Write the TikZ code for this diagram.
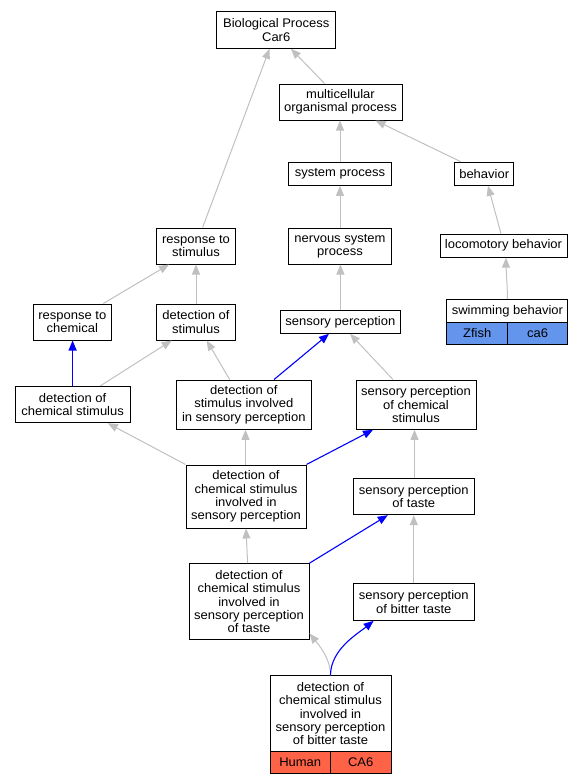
\documentclass[tikz,border=0pt]{standalone}
\usepackage{fontspec}
\setmainfont{Liberation Sans}[FakeStretch=1.04]
\usetikzlibrary{arrows.meta}
\definecolor{edgegray}{HTML}{C0C0C0}
\definecolor{edgeblue}{HTML}{0000FF}
\definecolor{zfish}{HTML}{6495ED}
\definecolor{human}{HTML}{FF6347}
\tikzset{
  box/.style={draw=black, line width=1pt, fill=white, inner sep=0pt, align=center,
    font=\fontsize{12.5}{13.3}\selectfont},
  cell/.style={box},
  gedge/.style={draw=edgegray, line width=1pt, -{Triangle[length=10pt,width=8pt]}},
  bedge/.style={draw=edgeblue, line width=1.1pt, -{Triangle[length=10pt,width=8pt]}},
}
\begin{document}
\begin{tikzpicture}[x=1pt,y=-1pt]
\useasboundingbox (0,0) rectangle (584,784);
% nodes
\node[box, minimum width=119pt, minimum height=36.6pt] (BP) at (276.2,30) {Biological Process\\Car6};
\node[box, minimum width=123pt, minimum height=36pt] (MOP) at (340.5,102) {multicellular\\organismal process};
\node[box, minimum width=102.5pt, minimum height=23pt] (SysP) at (340,173.8) {system process};
\node[box, minimum width=59pt, minimum height=23pt] (Beh) at (484.2,173.8) {behavior};
\node[box, minimum width=79pt, minimum height=36pt] (RtS) at (196,246) {response to\\stimulus};
\node[box, minimum width=102.5pt, minimum height=36pt] (NSP) at (340,246) {nervous system\\process};
\node[box, minimum width=127pt, minimum height=23pt] (Loco) at (503.5,245.7) {locomotory behavior};
\node[box, minimum width=121pt, minimum height=23.4pt] (Swim) at (507.4,311) {swimming behavior};
\node[cell, fill=zfish, minimum width=60.5pt, minimum height=21.4pt] (Zfish) at (477.15,333.4) {Zfish};
\node[cell, fill=zfish, minimum width=60.5pt, minimum height=21.4pt] (ca6) at (537.65,333.4) {ca6};
\node[box, minimum width=78.5pt, minimum height=36pt] (RtC) at (72.3,322) {response to\\chemical};
\node[box, minimum width=79pt, minimum height=36pt] (DoS) at (196,322) {detection of\\stimulus};
\node[box, minimum width=120pt, minimum height=23pt] (SP) at (340.4,321.8) {sensory perception};
\node[box, minimum width=115pt, minimum height=36.4pt] (DCS) at (72.6,404.5) {detection of\\chemical stimulus};
\node[box, minimum width=134.5pt, minimum height=49.3pt] (DoSiSP) at (243.8,404.7) {detection of\\stimulus involved\\in sensory perception};
\node[box, minimum width=120pt, minimum height=49.3pt] (SPCS) at (416,404.7) {sensory perception\\of chemical\\stimulus};
\node[box, minimum width=120pt, minimum height=63pt] (DCSiSP) at (246,496.5) {detection of\\chemical stimulus\\involved in\\sensory perception};
\node[box, minimum width=120.5pt, minimum height=36pt] (SPoT) at (413.8,496.7) {sensory perception\\of taste};
\node[box, minimum width=120pt, minimum height=76.3pt] (DCSiSPoT) at (249,601.8) {detection of\\chemical stimulus\\involved in\\sensory perception\\of taste};
\node[box, minimum width=120.5pt, minimum height=36.6pt] (SPoBT) at (413.8,602) {sensory perception\\of bitter taste};
\node[box, minimum width=121pt, minimum height=75.7pt] (Bot) at (330.5,713.8) {detection of\\chemical stimulus\\involved in\\sensory perception\\of bitter taste};
\node[cell, fill=human, minimum width=60.5pt, minimum height=21.6pt] (Human) at (300.25,762.5) {Human};
\node[cell, fill=human, minimum width=60.5pt, minimum height=21.6pt] (CA6) at (360.75,762.5) {CA6};
% edges
\draw[gedge] ([xshift=6.6pt]RtS.north) -- ([xshift=-6.7pt]BP.south);
\draw[gedge] ([xshift=-16pt]MOP.north) -- ([xshift=14.8pt]BP.south);
\draw[gedge] (SysP.north) -- (SysP.north |- MOP.south);
\draw[gedge] ([xshift=-23.2pt]Beh.north) -- ([xshift=35pt]MOP.south);
\draw[gedge] (NSP.north) -- (NSP.north |- SysP.south);
\draw[gedge] ([xshift=-2.5pt]Loco.north) -- ([xshift=3.8pt]Beh.south);
\draw[gedge] (Swim.north) .. controls +(0,-14) and +(0,10) .. ([xshift=2.5pt]Loco.south);
\draw[gedge] (DoS.north) -- (RtS.south);
\draw[gedge] ([xshift=31pt]RtC.north) -- ([xshift=-27pt]RtS.south);
\draw[gedge] (SP.north) -- (SP.north |- NSP.south);
\draw[bedge] (DCS.north) -- (DCS.north |- RtC.south);
\draw[gedge] ([xshift=27.8pt]DCS.north) -- ([xshift=-24.3pt]DoS.south);
\draw[gedge] ([xshift=-14.1pt]DoSiSP.north) -- ([xshift=10.7pt]DoS.south);
\draw[bedge] ([xshift=30.2pt]DoSiSP.north) -- ([xshift=-11.4pt]SP.south);
\draw[gedge] ([xshift=-23pt]SPCS.north) -- ([xshift=9.6pt]SP.south);
\draw[gedge] (DCSiSP.north west) -- ([xshift=35.2pt]DCS.south);
\draw[gedge] ([xshift=-0.5pt]DCSiSP.north) -- ([xshift=-0.5pt]DCSiSP.north |- DoSiSP.south);
\draw[bedge] (DCSiSP.north east) -- ([xshift=-43pt]SPCS.south);
\draw[gedge] ([xshift=0.7pt]SPoT.north) -- ([xshift=0.7pt]SPoT.north |- SPCS.south);
\draw[gedge] ([xshift=-1.4pt]DCSiSPoT.north) -- (DCSiSP.south);
\draw[bedge] (DCSiSPoT.north east) -- ([xshift=-26pt]SPoT.south);
\draw[gedge] (SPoBT.north) -- (SPoT.south);
\draw[gedge] (Bot.north) .. controls +(0,-18) and +(8,10) .. ([yshift=7pt]DCSiSPoT.south east);
\draw[bedge] (Bot.north) .. controls +(0,-26) and +(-16,13) .. ([xshift=-40.2pt]SPoBT.south);
\end{tikzpicture}
\end{document}
